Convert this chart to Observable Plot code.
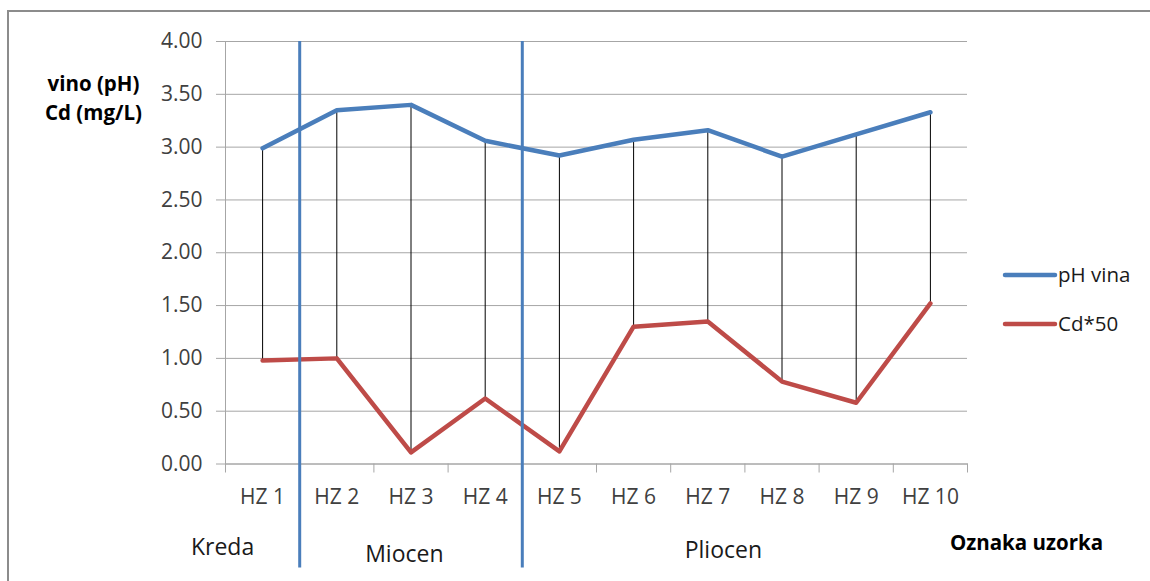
<!DOCTYPE html>
<html>
<head>
<meta charset="utf-8">
<script src="https://cdn.jsdelivr.net/npm/d3@7"></script>
<script src="https://cdn.jsdelivr.net/npm/@observablehq/plot@0.6"></script>
<style>
  html, body { margin: 0; padding: 0; background: #fff; }
  #chart svg { display: block; }
</style>
</head>
<body>
<div id="chart"></div>
<script>
// ---- data ----
const categories = ["HZ 1", "HZ 2", "HZ 3", "HZ 4", "HZ 5", "HZ 6", "HZ 7", "HZ 8", "HZ 9", "HZ 10"];
const phVina = [2.99, 3.35, 3.40, 3.06, 2.92, 3.07, 3.16, 2.91, 3.12, 3.33];
const cd50   = [0.98, 1.00, 0.11, 0.62, 0.12, 1.30, 1.35, 0.78, 0.58, 1.52];
const yTicks = [0, 0.5, 1, 1.5, 2, 2.5, 3, 3.5, 4];
const eraNames = ["Kreda", "Miocen", "Pliocen"];
const eraLabelAt = [0.46, 2.91, 7.21];      // sample-index position of each era label
const eraBoundaries = [1.5, 4.5];           // between HZ 1|HZ 2 and HZ 4|HZ 5
const seriesNames = ["pH vina", "Cd*50"];
const seriesColors = ["#4a7ebb", "#be4b48"];

const rows = categories.map((c, i) => ({i: i + 1, label: c, ph: phVina[i], cd: cd50[i]}));
const eras = eraNames.map((n, k) => ({name: n, at: eraLabelAt[k]}));
const boundaryTicks = d3.range(0, categories.length + 1).map(k => k + 0.5);

const FONT = "'Open Sans', sans-serif";
const W = 1150, H = 581;

const plot = Plot.plot({
  width: W, height: H,
  marginLeft: 225, marginRight: 183, marginTop: 41, marginBottom: 117.5,
  style: {fontFamily: FONT, fontSize: "20px", color: "#404040", background: "#fff", overflow: "visible"},
  x: {type: "linear", domain: [0.5, categories.length + 0.5]},
  y: {domain: [0, 4]},
  marks: [
    Plot.gridY(yTicks, {stroke: "#a6a6a6", strokeOpacity: 1}),
    Plot.axisY(yTicks, {tickFormat: d => d.toFixed(2), tickSize: 9, tickPadding: 14, stroke: "#a6a6a6", label: null, fontSize: 21}),
    Plot.axisX(boundaryTicks, {tickFormat: () => "", tickSize: 9, stroke: "#a6a6a6", label: null}),
    Plot.axisX(rows.map(d => d.i), {tickFormat: i => categories[i - 1], tickSize: 0, tickPadding: 25, label: null, fontSize: 21}),
    Plot.frame({anchor: "left", stroke: "#a6a6a6"}),
    Plot.frame({anchor: "bottom", stroke: "#a6a6a6"}),
    Plot.ruleX(rows, {x: "i", y1: "cd", y2: "ph", stroke: "#000", strokeWidth: 1}),
    Plot.line(rows, {x: "i", y: "ph", stroke: seriesColors[0], strokeWidth: 4.5}),
    Plot.line(rows, {x: "i", y: "cd", stroke: seriesColors[1], strokeWidth: 4.5}),
    Plot.ruleX(eraBoundaries, {stroke: seriesColors[0], strokeWidth: 3, insetBottom: -104}),
    Plot.text(eras.filter(d => d.name === "Kreda"), {x: "at", text: "name", frameAnchor: "bottom", dy: 91, fontSize: 23, fill: "#1a1a1a"}),
    Plot.text(eras.filter(d => d.name === "Miocen"), {x: "at", text: "name", frameAnchor: "bottom", dy: 98, fontSize: 23, fill: "#1a1a1a"}),
    Plot.text(eras.filter(d => d.name === "Pliocen"), {x: "at", text: "name", frameAnchor: "bottom", dy: 94, fontSize: 23, fill: "#1a1a1a"}),
    Plot.text(["Oznaka uzorka"], {frameAnchor: "bottom-right", dx: 59, dy: 86, textAnchor: "middle", fontSize: 20.5, fontWeight: "bold", fill: "#000"}),
    Plot.text(["vino (pH)\nCd (mg/L)"], {frameAnchor: "top-left", dx: -132, dy: 55, textAnchor: "middle", lineAnchor: "middle", lineHeight: 1.4, fontSize: 20.5, fontWeight: "bold", fill: "#000"})
  ]
});

const svg = d3.select(plot);
// chart border (top and left edges visible in reference)
svg.append("path")
  .attr("d", `M8,${H} L8,11 L${W},11`)
  .attr("fill", "none").attr("stroke", "#8c8c8c").attr("stroke-width", 2);

// legend
const lg = svg.append("g").attr("font-family", FONT).attr("font-size", 20.5).attr("text-anchor", "start");
seriesNames.forEach((name, k) => {
  const y = 275 + k * 49;
  lg.append("line").attr("x1", 1005).attr("x2", 1055).attr("y1", y).attr("y2", y)
    .attr("stroke", seriesColors[k]).attr("stroke-width", 4.5).attr("stroke-linecap", "round");
  lg.append("text").attr("x", 1058).attr("y", y).attr("dy", "0.35em").attr("fill", "#1a1a1a").text(name);
});

document.getElementById("chart").appendChild(plot);
</script>
</body>
</html>
